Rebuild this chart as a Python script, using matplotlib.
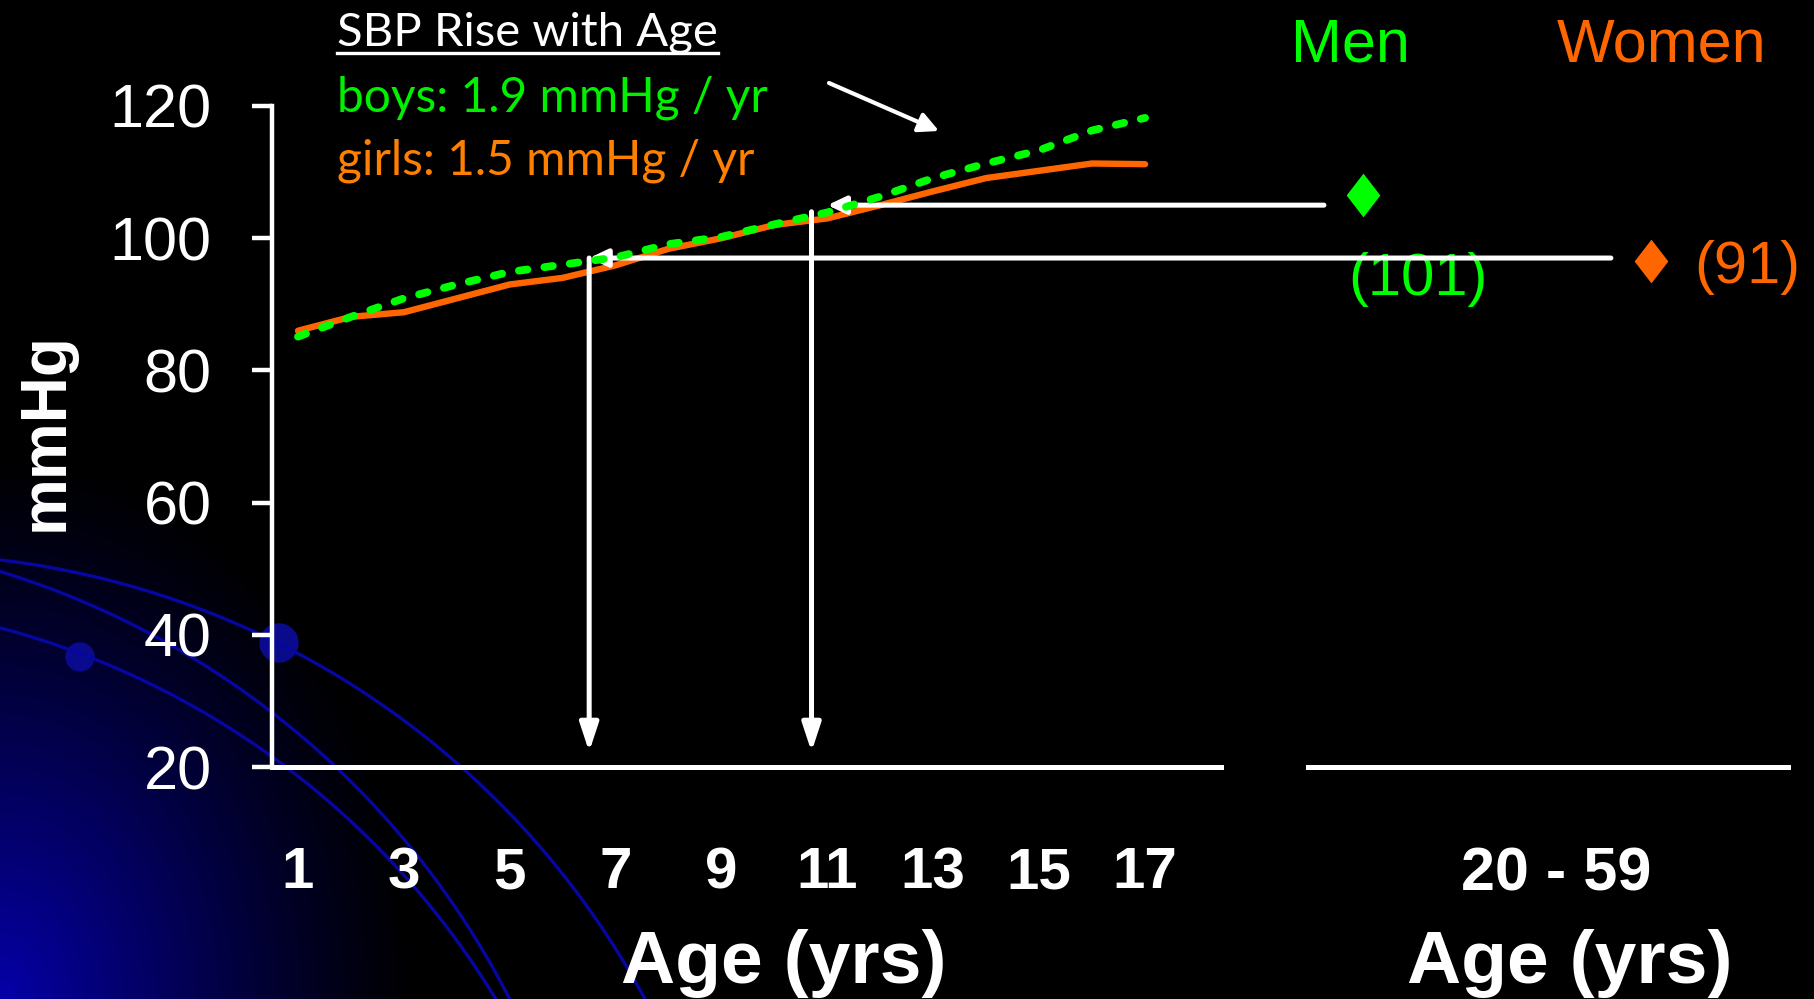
import numpy as np
import matplotlib
matplotlib.use("Agg")
import matplotlib.pyplot as plt
from matplotlib.path import Path
from matplotlib.lines import Line2D

# Childhood systolic blood pressure by age (mmHg)
ages = list(range(1, 18))
boys_sbp = [85.1, 88.1, 90.9, 93.0, 94.9, 96.0, 97.1, 99.1, 100.2,
            102.1, 103.9, 106.3, 109.1, 111.3, 113.3, 116.3, 118.2]
girls_sbp = [86.0, 88.1, 88.8, 90.9, 93.0, 94.0, 95.9, 98.4, 100.0,
             102.0, 103.0, 105.0, 107.1, 109.1, 110.2, 111.3, 111.2]
age_ticks = [1, 3, 5, 7, 9, 11, 13, 15, 17]
sbp_ticks = [20, 40, 60, 80, 100, 120]

# Adult systolic blood pressure, ages 20-59
adult_groups = ["Men", "Women"]
adult_sbp = [101, 91]
adult_age_label = "20 - 59"

# Childhood level matching the adult reading, and the age where it is reached
boys_match_sbp = 105
boys_match_age = 11.0
boys_drop_age = 10.7
girls_match_sbp = 97
girls_match_age = 6.5

title_text = "SBP Rise with Age"
boys_rate = "boys: 1.9 mmHg / yr"
girls_rate = "girls: 1.5 mmHg / yr"

GREEN = "#00FF00"
ORANGE = "#FF6600"
ARIAL = "Liberation Sans"

W, H = 1815, 999
fig = plt.figure(figsize=(W / 100, H / 100), dpi=100, facecolor="black")

# ---- slide background: blue glow in the lower-left corner with arcs ----
bg = fig.add_axes([0, 0, 1, 1], zorder=0)
bg.set_xlim(0, W)
bg.set_ylim(H, 0)
bg.axis("off")
yy, xx = np.mgrid[0:H, 0:W]
dist = np.sqrt((xx / 420.0) ** 2 + ((H - yy) / 550.0) ** 2)
glow = np.clip(1 - dist, 0, 1) ** 1.2
img = np.zeros((H, W, 3))
img[..., 2] = 0.66 * glow
img[..., 0] = 0.02 * glow
bg.imshow(img, extent=(0, W, H, 0), aspect="auto", interpolation="bilinear")
theta = np.linspace(0, np.pi / 2, 400)
for cx, cy, r in [(-100, 1400, 846), (-250, 1387, 853), (-213, 1429, 829)]:
    bg.plot(cx + r * np.cos(theta), cy - r * np.sin(theta),
            color="#0606A0", lw=2.4)
for (cx, cy, r) in [(279, 643, 19), (80, 657, 14)]:
    bg.add_patch(plt.Circle((cx, cy), r, color="#0A0A8C"))
bg.annotate("", xy=(939, 131), xytext=(829, 83),
            arrowprops=dict(arrowstyle="-|>,head_length=0.6,head_width=0.3",
                            color="white", lw=3, shrinkA=0, shrinkB=0,
                            mutation_scale=20))

# ---- childhood panel ----
ax1 = fig.add_axes([272 / W, 1 - 767 / H, (1221 - 272) / W, (767 - 106) / H], zorder=2)
ax1.patch.set_alpha(0)
ax1.plot(ages, girls_sbp, color=ORANGE, lw=4.6, solid_capstyle="round",
         solid_joinstyle="round", zorder=3)
ax1.plot(ages, boys_sbp, color=GREEN, lw=5.6, linestyle=(0, (1.1, 2.2)),
         dash_capstyle="round", zorder=4)
ax1.set_xlim(1 - 26 / 52.94, 1 + 923 / 52.94)
ax1.set_ylim(20, 120)
for s in ["top", "right"]:
    ax1.spines[s].set_visible(False)
ax1.spines["left"].set_color("white")
ax1.spines["left"].set_linewidth(3.2)
ax1.spines["bottom"].set_color("white")
ax1.spines["bottom"].set_linewidth(3.6)
ax1.set_yticks(sbp_ticks)
ax1.set_yticklabels([str(v) for v in sbp_ticks], fontsize=44, family=ARIAL, color="white")
ax1.tick_params(axis="y", length=14.4, width=3.2, color="white", pad=29)
ax1.set_xticks(age_ticks)
ax1.set_xticklabels([str(a) for a in age_ticks], fontsize=42, family=ARIAL,
                    fontweight="bold", color="white")
ax1.tick_params(axis="x", length=0, pad=57)

h_arrow = dict(arrowstyle="-|>,head_length=0.55,head_width=0.26", color="white",
               lw=3.6, shrinkA=0, shrinkB=0, mutation_scale=20)
v_arrow = dict(arrowstyle="-|>,head_length=0.85,head_width=0.28", color="white",
               lw=3.6, shrinkA=0, shrinkB=0, mutation_scale=20)
ax1.annotate("", xy=(boys_match_age, boys_match_sbp), xytext=(20.38, boys_match_sbp),
             arrowprops=h_arrow, annotation_clip=False)
ax1.annotate("", xy=(girls_match_age, girls_match_sbp), xytext=(25.8, girls_match_sbp),
             arrowprops=h_arrow, annotation_clip=False)
ax1.annotate("", xy=(boys_drop_age, 22.3), xytext=(boys_drop_age, boys_match_sbp - 1),
             arrowprops=v_arrow, annotation_clip=False)
ax1.annotate("", xy=(girls_match_age, 22.3), xytext=(girls_match_age, girls_match_sbp),
             arrowprops=v_arrow, annotation_clip=False)

# ---- adult panel ----
ax2 = fig.add_axes([1308 / W, 1 - 767 / H, 480 / W, (767 - 106) / H], zorder=1)
ax2.patch.set_alpha(0)
ax2.set_xlim(-55 / 288, 1 + 137 / 288)
ax2.set_ylim(14.5, 114.5)
for s in ["top", "right", "left"]:
    ax2.spines[s].set_visible(False)
ax2.spines["bottom"].set_color("white")
ax2.spines["bottom"].set_linewidth(3.6)
ax2.set_yticks([])
ax2.set_xticks([(1556 - 1363) / 288])
ax2.set_xticklabels([adult_age_label], fontsize=44, family=ARIAL,
                    fontweight="bold", color="white")
ax2.tick_params(axis="x", length=0, pad=57)

diamond = Path([(0, 1), (0.77, 0), (0, -1), (-0.77, 0), (0, 1)],
               [Path.MOVETO, Path.LINETO, Path.LINETO, Path.LINETO, Path.CLOSEPOLY])
colors = [GREEN, ORANGE]
for i, (v, c) in enumerate(zip(adult_sbp, colors)):
    ax2.plot([i], [v], marker=diamond, ms=31.5, color=c, mew=0, clip_on=False,
             linestyle="none")
ax2.annotate(f"({adult_sbp[0]})", xy=(0, adult_sbp[0]), xytext=(55, -100),
             textcoords="offset pixels", ha="center", va="baseline",
             fontsize=43, family=ARIAL, color=GREEN)
ax2.annotate(f"({adult_sbp[1]})", xy=(1, adult_sbp[1]), xytext=(43, -22),
             textcoords="offset pixels", ha="left", va="baseline",
             fontsize=43, family=ARIAL, color=ORANGE)

fig.text(1350 / W, 1 - 62 / H, adult_groups[0], ha="center", va="baseline",
         fontsize=44, family=ARIAL, color=GREEN)
fig.text(1662 / W, 1 - 62 / H, adult_groups[1], ha="center", va="baseline",
         fontsize=44, family=ARIAL, color=ORANGE)

# ---- axis titles ----
fig.text(784 / W, 1 - 983 / H, "Age (yrs)", ha="center", va="baseline",
         fontsize=54, family=ARIAL, fontweight="bold", color="white")
fig.text(1570 / W, 1 - 983 / H, "Age (yrs)", ha="center", va="baseline",
         fontsize=54, family=ARIAL, fontweight="bold", color="white")
fig.text(46 / W, 1 - 432 / H, "mmHg", rotation=90, ha="center", va="center",
         fontsize=46, family=ARIAL, fontweight="bold", color="white")

# ---- rate note ----
t = fig.text(337 / W, 1 - 46 / H, title_text, ha="left", va="baseline",
             fontsize=34, family="Lato", color="white")
fig.text(337 / W, 1 - 111 / H, boys_rate, ha="left", va="baseline",
         fontsize=34.5, family="Lato", color="#00F000")
fig.text(337 / W, 1 - 175 / H, girls_rate, ha="left", va="baseline",
         fontsize=34.5, family="Lato", color="#FF8000")
fig.canvas.draw()
bb = t.get_window_extent()
fig.add_artist(Line2D([bb.x0 / W, bb.x1 / W], [1 - 53 / H, 1 - 53 / H],
                      color="white", lw=2.4, transform=fig.transFigure))

fig.savefig("out.png", dpi=100, facecolor="black")
